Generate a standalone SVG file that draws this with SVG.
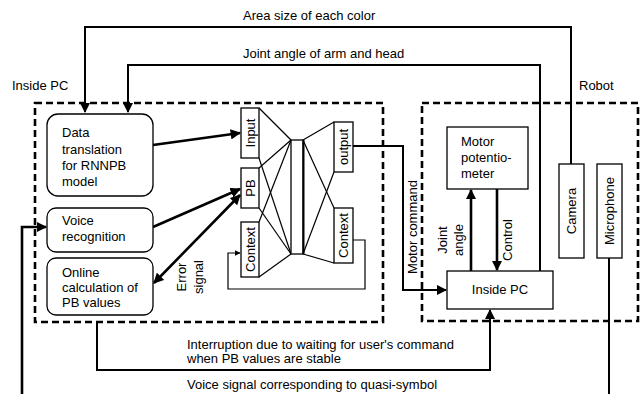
<svg xmlns="http://www.w3.org/2000/svg" width="641" height="394" viewBox="0 0 641 394">
<style>
text{font-family:"Liberation Sans",Arial,sans-serif;font-size:13px;fill:#000}
.box{fill:#fff;stroke:#000;stroke-width:1.3}
.dash{fill:none;stroke:#000;stroke-width:2.6;stroke-dasharray:7,4}
.thick{fill:none;stroke:#000;stroke-width:2.6}
.mid{fill:none;stroke:#000;stroke-width:2}
.thin{fill:none;stroke:#000;stroke-width:1.2}
</style>
<defs>
<marker id="ah" viewBox="0 0 10 10" refX="9" refY="5" markerWidth="4" markerHeight="4" orient="auto" markerUnits="strokeWidth"><path d="M0,0L10,5L0,10z" fill="#000"/></marker>
<marker id="ahs" viewBox="0 0 10 10" refX="9" refY="5" markerWidth="4" markerHeight="4" orient="auto-start-reverse" markerUnits="strokeWidth"><path d="M0,0L10,5L0,10z" fill="#000"/></marker>
<marker id="ahm" viewBox="0 0 10 10" refX="9" refY="5" markerWidth="5" markerHeight="5" orient="auto" markerUnits="strokeWidth"><path d="M0,0L10,5L0,10z" fill="#000"/></marker>
</defs>

<g id="labels">
<text x="243" y="20">Area size of each color</text>
<text x="243" y="58">Joint angle of arm and head</text>
<text x="12" y="90">Inside PC</text>
<text x="579" y="90">Robot</text>
<text x="187" y="349">Interruption due to waiting for user's command</text>
<text x="187" y="363">when PB values are stable</text>
<text x="187" y="389">Voice signal corresponding to quasi-symbol</text>
</g>

<g id="inside-pc-region"><rect class="dash" x="35" y="103" width="348" height="219"/></g>
<g id="robot-region"><rect class="dash" x="422" y="103" width="216" height="218"/></g>

<g id="connectors">
<polyline class="mid" points="571,164 571,27 85,27 85,112" marker-end="url(#ahm)"/>
<polyline class="mid" points="540,271 540,65 128,65 128,112" marker-end="url(#ahm)"/>
<line class="thick" x1="153" y1="145" x2="240" y2="133" marker-end="url(#ah)"/>
<line class="thick" x1="153" y1="227" x2="240" y2="189" marker-end="url(#ah)"/>
<line class="thick" x1="240" y1="195" x2="154" y2="283" marker-start="url(#ahs)" marker-end="url(#ah)"/>
<polyline class="thick" points="22,394 22,227 46,227" marker-end="url(#ah)"/>
<line class="mid" x1="609" y1="258" x2="609" y2="394"/>
<polyline class="mid" points="353,146 403,146 403,290 446,290" marker-end="url(#ahm)"/>
<polyline class="mid" points="97,322 97,370 490,370 490,310" marker-end="url(#ahm)"/>
<line class="thick" x1="471" y1="271" x2="471" y2="190" marker-end="url(#ah)"/>
<line class="thick" x1="497" y1="189" x2="497" y2="270" marker-end="url(#ah)"/>
<polyline class="thin" points="353,240 365,240 365,289 228,289 228,253 240,253" marker-end="url(#ahm)"/>
<g class="thin">
<line x1="259" y1="108" x2="291" y2="140"/>
<line x1="259" y1="158" x2="291" y2="254"/>
<line x1="259" y1="168" x2="291" y2="140"/>
<line x1="259" y1="208" x2="291" y2="254"/>
<line x1="259" y1="222" x2="291" y2="140"/>
<line x1="259" y1="277" x2="291" y2="254"/>
<line x1="303" y1="140" x2="334" y2="122"/>
<line x1="303" y1="254" x2="334" y2="172"/>
<line x1="303" y1="140" x2="334" y2="208"/>
<line x1="303" y1="254" x2="334" y2="263"/>
</g>
<text transform="translate(417,227) rotate(-90)" text-anchor="middle">Motor command</text>
<text transform="translate(447,240) rotate(-90)" text-anchor="middle">Joint</text>
<text transform="translate(463,240) rotate(-90)" text-anchor="middle">angle</text>
<text transform="translate(512,240) rotate(-90)" text-anchor="middle">Control</text>
<text transform="translate(186,277) rotate(-90)" text-anchor="middle">Error</text>
<text transform="translate(203,277) rotate(-90)" text-anchor="middle">signal</text>
</g>

<g id="data-translation">
<rect class="box" x="47" y="114" width="106" height="82" rx="11"/>
<text x="62" y="137">Data</text>
<text x="62" y="154">translation</text>
<text x="62" y="170">for RNNPB</text>
<text x="62" y="186">model</text>
</g>
<g id="voice-recognition">
<rect class="box" x="47" y="208" width="106" height="44" rx="9"/>
<text x="62" y="225">Voice</text>
<text x="62" y="241">recognition</text>
</g>
<g id="online-calc">
<rect class="box" x="47" y="258" width="106" height="57" rx="9"/>
<text x="62" y="277">Online</text>
<text x="62" y="292">calculation of</text>
<text x="62" y="307">PB values</text>
</g>

<g id="input">
<rect class="box" x="241" y="108" width="18" height="50"/>
<text transform="translate(254.5,133) rotate(-90)" text-anchor="middle">Input</text>
</g>
<g id="pb">
<rect class="box" x="241" y="168" width="18" height="40"/>
<text transform="translate(254.5,188) rotate(-90)" text-anchor="middle">PB</text>
</g>
<g id="context-in">
<rect class="box" x="241" y="222" width="18" height="55"/>
<text transform="translate(254.5,249.5) rotate(-90)" text-anchor="middle">Context</text>
</g>
<g id="hidden">
<rect class="box" x="291" y="140" width="12" height="114"/>
<line x1="303.5" y1="140" x2="303.5" y2="254" stroke="#000" stroke-width="2"/>
</g>
<g id="output">
<rect class="box" x="334" y="122" width="19" height="50"/>
<text transform="translate(348,147) rotate(-90)" text-anchor="middle">output</text>
</g>
<g id="context-out">
<rect class="box" x="334" y="208" width="19" height="55"/>
<text transform="translate(348,235.5) rotate(-90)" text-anchor="middle">Context</text>
</g>

<g id="motor-potentiometer">
<rect class="box" x="447" y="127" width="81" height="62"/>
<text x="461" y="146">Motor</text>
<text x="461" y="162">potentio-</text>
<text x="461" y="178">meter</text>
</g>
<g id="robot-inside-pc">
<rect class="box" x="447" y="271" width="106" height="38"/>
<text x="500" y="294" text-anchor="middle">Inside PC</text>
</g>
<g id="camera">
<rect class="box" x="559" y="164" width="25" height="94"/>
<text transform="translate(576,211) rotate(-90)" text-anchor="middle">Camera</text>
</g>
<g id="microphone">
<rect class="box" x="597" y="164" width="25" height="94"/>
<text transform="translate(614,211) rotate(-90)" text-anchor="middle">Microphone</text>
</g>
</svg>
